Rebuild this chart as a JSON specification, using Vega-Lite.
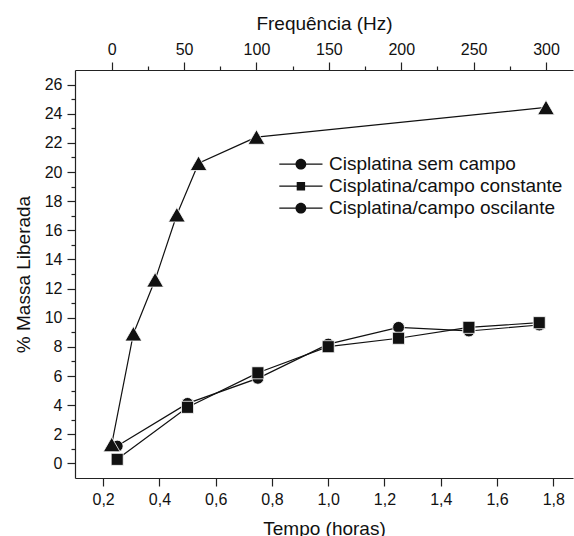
{
  "$schema": "https://vega.github.io/schema/vega-lite/v6.json",
  "width": 498,
  "height": 408,
  "autosize": {"type": "none"},
  "padding": {"left": 75, "top": 70, "right": 1, "bottom": 58},
  "background": "white",
  "config": {
    "view": {"stroke": null},
    "font": "Liberation Sans",
    "axis": {
      "grid": false,
      "domainColor": "#222",
      "domainWidth": 1.2,
      "tickColor": "#222",
      "tickWidth": 1.2,
      "labelColor": "#111",
      "labelFontSize": 16,
      "labelFont": "Liberation Sans",
      "titleFont": "Liberation Sans",
      "titleFontSize": 19,
      "titleFontWeight": "normal",
      "titleColor": "#111",
      "labelPadding": 5,
      "labelOverlap": false,
      "labelFlush": false
    }
  },
  "datasets": {
    "tempo": [
      {"serie": "Cisplatina sem campo", "tempo": 0.25, "massa": 1.19},
      {"serie": "Cisplatina sem campo", "tempo": 0.5, "massa": 4.12},
      {"serie": "Cisplatina sem campo", "tempo": 0.75, "massa": 5.84},
      {"serie": "Cisplatina sem campo", "tempo": 1.0, "massa": 8.19},
      {"serie": "Cisplatina sem campo", "tempo": 1.25, "massa": 9.34},
      {"serie": "Cisplatina sem campo", "tempo": 1.5, "massa": 9.09},
      {"serie": "Cisplatina sem campo", "tempo": 1.75, "massa": 9.5},
      {"serie": "Cisplatina/campo constante", "tempo": 0.25, "massa": 0.28},
      {"serie": "Cisplatina/campo constante", "tempo": 0.5, "massa": 3.85},
      {"serie": "Cisplatina/campo constante", "tempo": 0.75, "massa": 6.22},
      {"serie": "Cisplatina/campo constante", "tempo": 1.0, "massa": 8.01},
      {"serie": "Cisplatina/campo constante", "tempo": 1.25, "massa": 8.59},
      {"serie": "Cisplatina/campo constante", "tempo": 1.5, "massa": 9.34},
      {"serie": "Cisplatina/campo constante", "tempo": 1.75, "massa": 9.66}
    ],
    "freq": [
      {"serie": "Cisplatina/campo oscilante", "freq": 0, "massa": 1.3},
      {"serie": "Cisplatina/campo oscilante", "freq": 15, "massa": 8.9},
      {"serie": "Cisplatina/campo oscilante", "freq": 30, "massa": 12.6},
      {"serie": "Cisplatina/campo oscilante", "freq": 45, "massa": 17.07},
      {"serie": "Cisplatina/campo oscilante", "freq": 60, "massa": 20.6},
      {"serie": "Cisplatina/campo oscilante", "freq": 100, "massa": 22.4},
      {"serie": "Cisplatina/campo oscilante", "freq": 300, "massa": 24.43}
    ]
  },
  "layer": [
    {
      "layer": [
        {
          "data": {"name": "tempo"},
          "mark": {"type": "line", "color": "#111", "strokeWidth": 1.2},
          "encoding": {
            "x": {
              "field": "tempo",
              "type": "quantitative",
              "scale": {"domain": [0.1, 1.87], "nice": false, "zero": false},
              "axis": {
                "orient": "bottom",
                "title": "Tempo (horas)",
                "values": [0.2, 0.3, 0.4, 0.5, 0.6, 0.7, 0.8, 0.9, 1.0, 1.1, 1.2, 1.3, 1.4, 1.5, 1.6, 1.7, 1.8],
                "labelExpr": "round(datum.value*10) % 2 === 0 ? replace(format(datum.value, '.1f'), '.', ',') : ''",
                "tickSize": {"condition": {"test": "round(datum.value*10) % 2 === 0", "value": 8}, "value": 4},
                "titlePadding": 12
              }
            },
            "y": {
              "field": "massa",
              "type": "quantitative",
              "scale": {"domain": [-1, 27], "nice": false, "zero": false},
              "axis": {
                "title": "% Massa Liberada",
                "values": [0, 1, 2, 3, 4, 5, 6, 7, 8, 9, 10, 11, 12, 13, 14, 15, 16, 17, 18, 19, 20, 21, 22, 23, 24, 25, 26],
                "labelExpr": "datum.value % 2 === 0 ? datum.label : ''",
                "tickSize": {"condition": {"test": "datum.value % 2 === 0", "value": 8}, "value": 4},
                "titlePadding": 11
              }
            },
            "detail": {"field": "serie"}
          }
        },
        {
          "data": {"name": "tempo"},
          "transform": [{"filter": "datum.serie === 'Cisplatina sem campo'"}],
          "mark": {"type": "point", "shape": "circle", "filled": true, "color": "#111", "size": 140, "opacity": 1, "stroke": "white", "strokeWidth": 0.8},
          "encoding": {
            "x": {"field": "tempo", "type": "quantitative"},
            "y": {
              "field": "massa",
              "type": "quantitative",
              "scale": {"domain": [-1, 27], "nice": false, "zero": false},
              "axis": {
                "title": "% Massa Liberada",
                "values": [0, 1, 2, 3, 4, 5, 6, 7, 8, 9, 10, 11, 12, 13, 14, 15, 16, 17, 18, 19, 20, 21, 22, 23, 24, 25, 26],
                "labelExpr": "datum.value % 2 === 0 ? datum.label : ''",
                "tickSize": {"condition": {"test": "datum.value % 2 === 0", "value": 8}, "value": 4},
                "titlePadding": 11
              }
            }
          }
        },
        {
          "data": {"name": "tempo"},
          "transform": [{"filter": "datum.serie === 'Cisplatina/campo constante'"}],
          "mark": {"type": "point", "shape": "square", "filled": true, "color": "#111", "size": 145, "opacity": 1, "stroke": "white", "strokeWidth": 0.8},
          "encoding": {
            "x": {"field": "tempo", "type": "quantitative"},
            "y": {
              "field": "massa",
              "type": "quantitative",
              "scale": {"domain": [-1, 27], "nice": false, "zero": false},
              "axis": {
                "title": "% Massa Liberada",
                "values": [0, 1, 2, 3, 4, 5, 6, 7, 8, 9, 10, 11, 12, 13, 14, 15, 16, 17, 18, 19, 20, 21, 22, 23, 24, 25, 26],
                "labelExpr": "datum.value % 2 === 0 ? datum.label : ''",
                "tickSize": {"condition": {"test": "datum.value % 2 === 0", "value": 8}, "value": 4},
                "titlePadding": 11
              }
            }
          }
        },
        {
          "data": {"name": "tempo"},
          "transform": [{"filter": "false"}],
          "mark": {"type": "point", "filled": true, "color": "#111", "opacity": 1},
          "encoding": {
            "x": {"field": "tempo", "type": "quantitative"},
            "y": {
              "field": "massa",
              "type": "quantitative",
              "scale": {"domain": [-1, 27], "nice": false, "zero": false},
              "axis": {
                "title": "% Massa Liberada",
                "values": [0, 1, 2, 3, 4, 5, 6, 7, 8, 9, 10, 11, 12, 13, 14, 15, 16, 17, 18, 19, 20, 21, 22, 23, 24, 25, 26],
                "labelExpr": "datum.value % 2 === 0 ? datum.label : ''",
                "tickSize": {"condition": {"test": "datum.value % 2 === 0", "value": 8}, "value": 4},
                "titlePadding": 11
              }
            },
            "shape": {
              "field": "serie",
              "type": "nominal",
              "scale": {
                "domain": ["Cisplatina sem campo", "Cisplatina/campo constante", "Cisplatina/campo oscilante"],
                "range": [
                  "M-3.6,-0.1H3.6V0.1H-3.6ZM-0.9,0A0.9,0.9,0,1,1,0.9,0A0.9,0.9,0,1,1,-0.9,0Z",
                  "M-3.6,-0.1H3.6V0.1H-3.6ZM-0.7,-0.7H0.7V0.7H-0.7Z",
                  "M-3.6,-0.1H3.6V0.1H-3.6ZM-0.9,0A0.9,0.9,0,1,1,0.9,0A0.9,0.9,0,1,1,-0.9,0Z"
                ]
              },
              "legend": {
                "title": null,
                "orient": "none",
                "legendX": 216.4,
                "legendY": 84.7,
                "padding": 0,
                "labelFontSize": 19,
                "labelFont": "Liberation Sans",
                "labelColor": "#111",
                "labelOffset": 18.6,
                "labelLimit": 400,
                "symbolSize": 144,
                "symbolFillColor": "#111",
                "symbolStrokeColor": "#111",
                "symbolStrokeWidth": 1.2,
                "symbolOpacity": 1,
                "rowPadding": 2
              }
            }
          }
        }
      ]
    },
    {
      "layer": [
        {
          "data": {"name": "freq"},
          "mark": {"type": "line", "color": "#111", "strokeWidth": 1.2},
          "encoding": {
            "x": {
              "field": "freq",
              "type": "quantitative",
              "scale": {"domain": [-25.35, 318.65], "nice": false, "zero": false},
              "axis": {
                "orient": "top",
                "title": "Frequência (Hz)",
                "values": [0, 25, 50, 75, 100, 125, 150, 175, 200, 225, 250, 275, 300],
                "labelExpr": "datum.value % 50 === 0 ? datum.label : ''",
                "tickSize": {"condition": {"test": "datum.value % 50 === 0", "value": 8}, "value": 4},
                "titlePadding": 8
              }
            },
            "y": {
              "field": "massa",
              "type": "quantitative",
              "scale": {"domain": [-1, 27], "nice": false, "zero": false},
              "axis": {
                "title": "% Massa Liberada",
                "values": [0, 1, 2, 3, 4, 5, 6, 7, 8, 9, 10, 11, 12, 13, 14, 15, 16, 17, 18, 19, 20, 21, 22, 23, 24, 25, 26],
                "labelExpr": "datum.value % 2 === 0 ? datum.label : ''",
                "tickSize": {"condition": {"test": "datum.value % 2 === 0", "value": 8}, "value": 4},
                "titlePadding": 11
              }
            }
          }
        },
        {
          "data": {"name": "freq"},
          "mark": {"type": "point", "shape": "triangle-up", "filled": true, "color": "#111", "size": 280, "opacity": 1, "stroke": "white", "strokeWidth": 0.8},
          "encoding": {
            "x": {"field": "freq", "type": "quantitative"},
            "y": {
              "field": "massa",
              "type": "quantitative",
              "scale": {"domain": [-1, 27], "nice": false, "zero": false},
              "axis": {
                "title": "% Massa Liberada",
                "values": [0, 1, 2, 3, 4, 5, 6, 7, 8, 9, 10, 11, 12, 13, 14, 15, 16, 17, 18, 19, 20, 21, 22, 23, 24, 25, 26],
                "labelExpr": "datum.value % 2 === 0 ? datum.label : ''",
                "tickSize": {"condition": {"test": "datum.value % 2 === 0", "value": 8}, "value": 4},
                "titlePadding": 11
              }
            }
          }
        }
      ]
    }
  ],
  "resolve": {"scale": {"x": "independent"}}
}
